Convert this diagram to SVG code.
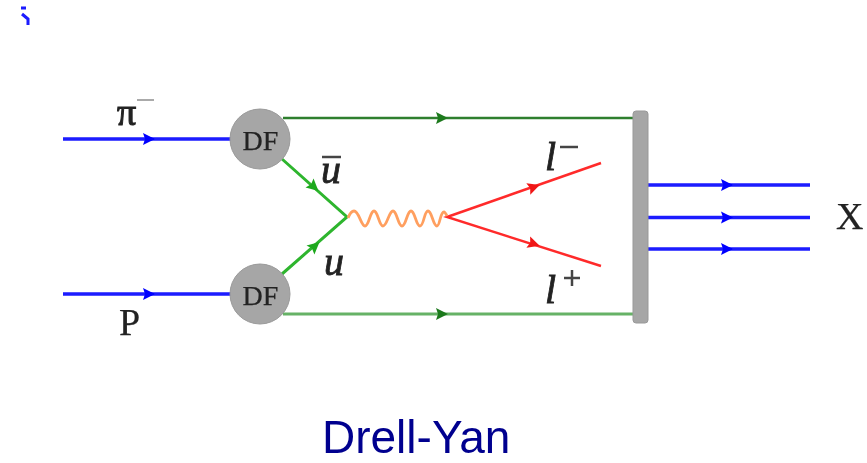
<svg xmlns="http://www.w3.org/2000/svg" width="867" height="463" viewBox="0 0 867 463">
<style>
.l{fill:none;stroke-linecap:butt}
.b{stroke:#1a1aff;stroke-width:3.5}
.dg{stroke:#2f7f2f;stroke-width:2.5}
.lg{stroke:#66b266;stroke-width:3}
.g{stroke:#2db52d;stroke-width:3}
.r{stroke:#ff2a2a;stroke-width:2.5}
.ab{fill:#0000ff}.adg{fill:#1f7a1f}.ag{fill:#1fa81f}.ar{fill:#f01515}
.n{fill:#a6a6a6;stroke:#999;stroke-width:1}
.t{font-family:"Liberation Serif",serif;fill:#222;stroke:#222;stroke-width:0.25}
.i{font-style:italic;stroke-width:0.8}
</style>
<defs>
<filter id="soft" x="-5%" y="-5%" width="110%" height="110%"><feGaussianBlur stdDeviation="0.7"/></filter>
<polygon id="ah" points="-6,-6 6,0 -6,6 -4,0"/>
</defs>
<g filter="url(#soft)">
<path d="M21 8h5M22 14l6 5v6" fill="none" stroke="#1a1aff" stroke-width="3"/>
<g id="connectors">
<path class="l b" d="M63 139H232M63 294H232M648 185H810M648 217.500H810M648 249H810"/>
<path class="l dg" d="M283 118H634"/>
<path class="l lg" d="M283 314H634"/>
<path class="l g" d="M282 159L347 217L282 274"/>
<path class="l r" d="M601 163L447 217L601 266"/>
<path d="M348 218C350 213 352 211 354 211C359 211 361 226 365 226C369 226 370 211 374 211C378 211 379 226 383 226C387 226 389 211 393 211C397 211 398 226 402 226C406 226 407 211 411 211C415 211 416 226 420 226C424 226 424 211 428 211C432 211 433 226 437 226C440 226 440 212 444 212C445 212 446 214 447 216" fill="none" stroke="#ff9f5f" stroke-width="2.800"/>
<use href="#ah" class="ab" transform="translate(149,139)"/>
<use href="#ah" class="ab" transform="translate(149,294)"/>
<use href="#ah" class="ab" transform="translate(727,185)"/>
<use href="#ah" class="ab" transform="translate(727,217.500)"/>
<use href="#ah" class="ab" transform="translate(727,249)"/>
<use href="#ah" class="adg" transform="translate(442,118)"/>
<use href="#ah" class="adg" transform="translate(442,314)"/>
<use href="#ah" class="ag" transform="translate(314,187) rotate(42)"/>
<use href="#ah" class="ag" transform="translate(315,246) rotate(-41)"/>
<use href="#ah" class="ar" transform="translate(534,187) rotate(-19)"/>
<use href="#ah" class="ar" transform="translate(534,244) rotate(18)"/>
</g>
<g id="df-top"><circle class="n" cx="260" cy="139" r="30"/><text class="t" x="260.500" y="150" font-size="28" text-anchor="middle">DF</text></g>
<g id="df-bottom"><circle class="n" cx="260" cy="294" r="30"/><text class="t" x="260.500" y="305" font-size="28" text-anchor="middle">DF</text></g>
<g id="blob"><rect x="633" y="111" width="15" height="212" rx="3" fill="#a6a6a6" stroke="#999"/></g>
<g id="labels">
<text class="t" x="117" y="125" font-size="38" style="stroke-width:1">π</text>
<path d="M137 100H154" stroke="#aaa" stroke-width="2"/>
<text class="t" x="119" y="335" font-size="38">P</text>
<text class="t" x="836" y="229" font-size="38">X</text>
<text class="t i" x="321" y="183" font-size="40">u</text>
<path d="M322 157H341" stroke="#444" stroke-width="2.500"/>
<text class="t i" x="324" y="275" font-size="40">u</text>
<text class="t i" x="545" y="170" font-size="40">l</text>
<path d="M560 147H578" stroke="#444" stroke-width="2.500"/>
<text class="t i" x="545" y="303" font-size="40">l</text>
<path d="M572 270V286M564 278H580" stroke="#444" stroke-width="2.500"/>
<text x="322" y="453" font-size="46" font-family="Liberation Sans, sans-serif" fill="#00008f">Drell-Yan</text>
</g>
</g>
</svg>
